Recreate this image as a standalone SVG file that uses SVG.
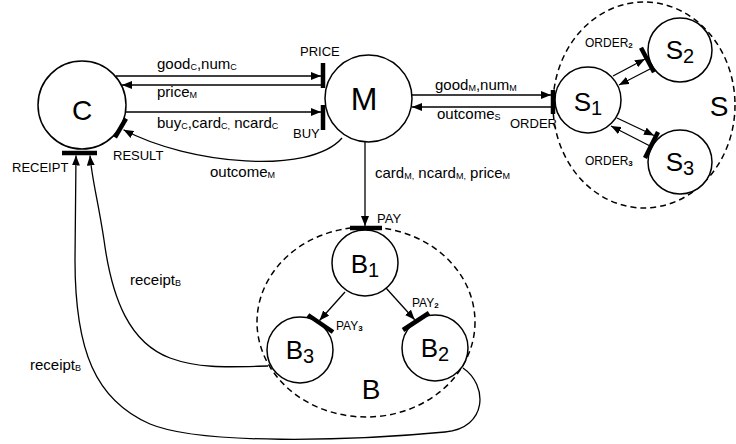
<svg xmlns="http://www.w3.org/2000/svg" width="736" height="444" viewBox="0 0 736 444">
  <defs>
    <marker id="arrow" markerUnits="userSpaceOnUse" markerWidth="10" markerHeight="8" refX="10" refY="4" orient="auto">
      <path d="M0,0 L10,4 L0,8 z" fill="#000"/>
    </marker>
    <style>
      text { font-family: "Liberation Sans", Arial, Helvetica, sans-serif; fill: #000; }
      .circ { fill: #fff; stroke: #000; stroke-width: 1.5; }
      .cluster { fill: none; stroke: #000; stroke-width: 1.5; stroke-dasharray: 6 4; }
      .port { stroke: #000; stroke-width: 4.5; stroke-linecap: butt; }
      .edge { fill: none; stroke: #000; stroke-width: 1.3; }
      .arr { marker-end: url(#arrow); }
      .big { font-size: 28px; }
      .idx { font-size: 26px; }
      .dig { font-size: 20px; }
      .lbl { font-size: 15px; }
      .sub { font-size: 9px; }
      .port-lbl { font-size: 13px; }
      .port-sm { font-size: 12px; }
      .psub { font-size: 8px; font-weight: bold; }
    </style>
  </defs>
  <rect width="736" height="444" fill="#fff"/>

  <!-- dashed cluster outlines -->
  <g id="cluster-S">
    <ellipse class="cluster" cx="644" cy="105" rx="91" ry="103"/>
    <text class="big" x="719" y="116" text-anchor="middle" font-size="29">S</text>
  </g>
  <g id="cluster-B">
    <ellipse class="cluster" cx="366" cy="322" rx="109" ry="95"/>
    <text class="big" x="371" y="399" text-anchor="middle" font-size="29">B</text>
  </g>

  <!-- connectors -->
  <g id="connectors">
    <path class="edge arr" d="M116,76 L321,76"/>
    <path class="edge arr" d="M321,85 L122,85"/>
    <path class="edge arr" d="M125,112 L321,112"/>
    <path class="edge arr" d="M342,138 C310,175 190,165 123.5,129.8"/>
    <path class="edge arr" d="M365,142 L365,226"/>
    <path class="edge arr" d="M412,95 L551,95"/>
    <path class="edge arr" d="M551,107 L412,107"/>
    <path class="edge arr" d="M613,76 L645,59"/>
    <path class="edge arr" d="M650,69 L619,85"/>
    <path class="edge arr" d="M617,118 L654,135.5"/>
    <path class="edge arr" d="M650,146 L611,126"/>
    <path class="edge arr" d="M345,292 L319.5,320.5"/>
    <path class="edge arr" d="M386,288 L414.7,319.8"/>
    <path class="edge arr" d="M268,366 C230,367 200,369 170,358 C130,343 112,300 104,240 C98,200 92,180 90,155.5"/>
    <path class="edge arr" d="M463,368 C488,385 488,428 445,432 C350,441 200,445 150,424 C95,400 75,350 75,260 L76,155.5"/>

    <!-- edge labels -->
    <text class="lbl" x="157" y="69">good<tspan class="sub" dy="1">C</tspan><tspan dy="-1">,num</tspan><tspan class="sub" dy="1">C</tspan></text>
    <text class="lbl" x="157" y="97">price<tspan class="sub" dy="1">M</tspan></text>
    <text class="lbl" x="157" y="128">buy<tspan class="sub" dy="1">C</tspan><tspan dy="-1">,card</tspan><tspan class="sub" dy="1">C,</tspan><tspan dy="-1"> ncard</tspan><tspan class="sub" dy="1">C</tspan></text>
    <text class="lbl" x="210" y="177">outcome<tspan class="sub" dy="1">M</tspan></text>
    <text class="lbl" x="435" y="90">good<tspan class="sub" dy="1">M</tspan><tspan dy="-1">,num</tspan><tspan class="sub" dy="1">M</tspan></text>
    <text class="lbl" x="437" y="119">outcome<tspan class="sub" dy="1">S</tspan></text>
    <text class="lbl" x="375" y="178">card<tspan class="sub" dy="1">M,</tspan><tspan dy="-1"> ncard</tspan><tspan class="sub" dy="1">M,</tspan><tspan dy="-1"> price</tspan><tspan class="sub" dy="1">M</tspan></text>
    <text class="lbl" x="130" y="285">receipt<tspan class="sub" dy="1">B</tspan></text>
    <text class="lbl" x="30" y="370">receipt<tspan class="sub" dy="1">B</tspan></text>
  </g>

  <!-- C -->
  <g id="node-C">
    <circle class="circ" cx="82" cy="105" r="44"/>
    <text class="big" x="82" y="120" text-anchor="middle">C</text>
    <line class="port" x1="62" y1="153" x2="97" y2="153"/>
    <text class="port-lbl" x="12" y="172">RECEIPT</text>
    <line class="port" x1="126" y1="118.6" x2="115" y2="137.4"/>
    <text class="port-lbl" x="113" y="160">RESULT</text>
  </g>

  <!-- M -->
  <g id="node-M">
    <circle class="circ" cx="368.5" cy="98.5" r="43.5"/>
    <text x="364" y="110" text-anchor="middle" font-size="32">M</text>
    <line class="port" x1="323" y1="63" x2="323" y2="88"/>
    <text class="port-lbl" x="300" y="56">PRICE</text>
    <line class="port" x1="323" y1="105" x2="323" y2="130"/>
    <text class="port-lbl" x="293" y="138">BUY</text>
  </g>

  <!-- S1 -->
  <g id="node-S1">
    <circle class="circ" cx="588" cy="100" r="33"/>
    <text class="idx" x="588" y="111" text-anchor="middle">S<tspan class="dig" dy="4">1</tspan></text>
    <line class="port" x1="553" y1="90" x2="553" y2="114"/>
    <text class="port-lbl" x="510" y="128">ORDER</text>
  </g>

  <!-- S2 -->
  <g id="node-S2">
    <circle class="circ" cx="680" cy="50" r="32"/>
    <text class="idx" x="680" y="59" text-anchor="middle">S<tspan class="dig" dy="4">2</tspan></text>
    <line class="port" x1="641" y1="47.7" x2="654" y2="72.3"/>
    <text class="port-sm" x="585" y="47">ORDER<tspan class="psub" dy="1">2</tspan></text>
  </g>

  <!-- S3 -->
  <g id="node-S3">
    <circle class="circ" cx="680" cy="162" r="32"/>
    <text class="idx" x="680" y="171" text-anchor="middle">S<tspan class="dig" dy="4">3</tspan></text>
    <line class="port" x1="658" y1="132" x2="645" y2="158"/>
    <text class="port-sm" x="585" y="165">ORDER<tspan class="psub" dy="1">3</tspan></text>
  </g>

  <!-- B1 -->
  <g id="node-B1">
    <circle class="circ" cx="365" cy="263" r="33"/>
    <text class="idx" x="365" y="273" text-anchor="middle">B<tspan class="dig" dy="4">1</tspan></text>
    <line class="port" x1="350" y1="228" x2="382" y2="228"/>
    <text class="port-lbl" x="377" y="223">PAY</text>
  </g>

  <!-- B2 -->
  <g id="node-B2">
    <circle class="circ" cx="435" cy="348" r="33"/>
    <text class="idx" x="435" y="357" text-anchor="middle">B<tspan class="dig" dy="4">2</tspan></text>
    <line class="port" x1="403" y1="330" x2="429" y2="313"/>
    <text class="port-sm" x="412" y="307">PAY<tspan class="psub" dy="1">2</tspan></text>
  </g>

  <!-- B3 -->
  <g id="node-B3">
    <circle class="circ" cx="300" cy="350" r="33"/>
    <text class="idx" x="300" y="359" text-anchor="middle">B<tspan class="dig" dy="4">3</tspan></text>
    <line class="port" x1="308" y1="315" x2="333" y2="332"/>
    <text class="port-sm" x="336" y="330">PAY<tspan class="psub" dy="1">3</tspan></text>
  </g>
</svg>
